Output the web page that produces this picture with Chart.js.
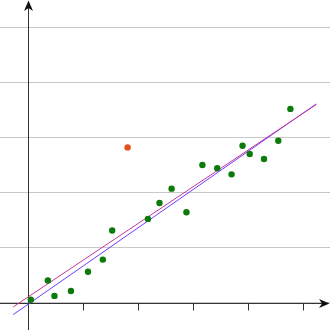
<!DOCTYPE html>
<html>
<head>
<meta charset="utf-8">
<script src="https://cdn.jsdelivr.net/npm/chart.js@4"></script>
<style>
html,body{margin:0;padding:0;background:#fff;}
#wrap{width:330px;height:330px;}
</style>
</head>
<body>
<div id="wrap"><canvas id="c" width="330" height="330"></canvas></div>
<script>
// Data
const pointsX = [0.06, 0.37, 0.49, 0.79, 1.10, 1.37, 1.54, 2.19, 2.40, 2.62, 2.89, 3.18, 3.45, 3.71, 3.91, 4.04, 4.30, 4.56, 4.78];
const pointsY = [0.05, 0.40, 0.12, 0.21, 0.56, 0.78, 1.31, 1.52, 1.81, 2.07, 1.64, 2.50, 2.44, 2.33, 2.85, 2.70, 2.61, 2.94, 3.52];
const outlierX = [1.82];
const outlierY = [2.82];
const lineX = [-0.26, 5.25];
const fitWithOutlierY = [-0.08, 3.60];
const fitWithoutOutlierY = [-0.22, 3.61];
const xTicks = [1, 2, 3, 4, 5];
const yGrid = [0, 1, 2, 3, 4, 5];

const toXY = (xs, ys) => xs.map((x, i) => ({x: x, y: ys[i]}));

const axesPlugin = {
  id: 'axesArrows',
  beforeDatasetsDraw(chart) {
    const ctx = chart.ctx;
    const xs = chart.scales.x, ys = chart.scales.y;
    const ox = Math.round(xs.getPixelForValue(0)) + 0.5;
    const oy = Math.round(ys.getPixelForValue(0)) + 0.5;
    const W = chart.width, H = chart.height;
    ctx.save();
    ctx.strokeStyle = '#333';
    ctx.fillStyle = '#111';
    ctx.lineWidth = 1;
    // x axis
    ctx.beginPath(); ctx.moveTo(0, oy); ctx.lineTo(W - 3, oy); ctx.stroke();
    // y axis
    ctx.beginPath(); ctx.moveTo(ox, H); ctx.lineTo(ox, 3); ctx.stroke();
    // x ticks
    xTicks.forEach(v => {
      const px = Math.round(xs.getPixelForValue(v)) + 0.5;
      ctx.beginPath(); ctx.moveTo(px, oy); ctx.lineTo(px, oy + 7); ctx.stroke();
    });
    // arrows
    ctx.beginPath();
    ctx.moveTo(W - 0.5, oy);
    ctx.lineTo(W - 11, oy - 4.5);
    ctx.lineTo(W - 8, oy);
    ctx.lineTo(W - 11, oy + 4.5);
    ctx.closePath(); ctx.fill();
    ctx.beginPath();
    ctx.moveTo(ox, 0.5);
    ctx.lineTo(ox - 4.5, 11);
    ctx.lineTo(ox, 8);
    ctx.lineTo(ox + 4.5, 11);
    ctx.closePath(); ctx.fill();
    ctx.restore();
  }
};

new Chart(document.getElementById('c'), {
  type: 'scatter',
  data: {
    datasets: [
      {
        data: toXY(pointsX, pointsY),
        backgroundColor: '#0a7a0a',
        borderColor: '#0a7a0a',
        pointRadius: 3.2,
        borderWidth: 0,
        order: 1
      },
      {
        data: toXY(outlierX, outlierY),
        backgroundColor: '#e0501a',
        borderColor: '#e0501a',
        pointRadius: 3.2,
        borderWidth: 0,
        order: 1
      },
      {
        data: toXY(lineX, fitWithOutlierY),
        showLine: true,
        borderColor: '#cc3399',
        borderWidth: 1,
        pointRadius: 0,
        fill: false,
        order: 2
      },
      {
        data: toXY(lineX, fitWithoutOutlierY),
        showLine: true,
        borderColor: '#6a3cff',
        borderWidth: 1,
        pointRadius: 0,
        fill: false,
        order: 3
      }
    ]
  },
  options: {
    responsive: false,
    animation: false,
    layout: {padding: 0, autoPadding: false},
    plugins: {legend: {display: false}, tooltip: {enabled: false}},
    scales: {
      x: {
        type: 'linear', min: -0.5, max: 5.5,
        display: false
      },
      y: {
        type: 'linear', min: -0.5, max: 5.5,
        afterBuildTicks: s => { s.ticks = yGrid.map(v => ({value: v})); },
        ticks: {display: false, padding: 0},
        grid: {color: '#c8c8c8', lineWidth: 1, drawTicks: false, tickLength: 0},
        border: {display: false}
      }
    }
  },
  plugins: [axesPlugin]
});
</script>
</body>
</html>
